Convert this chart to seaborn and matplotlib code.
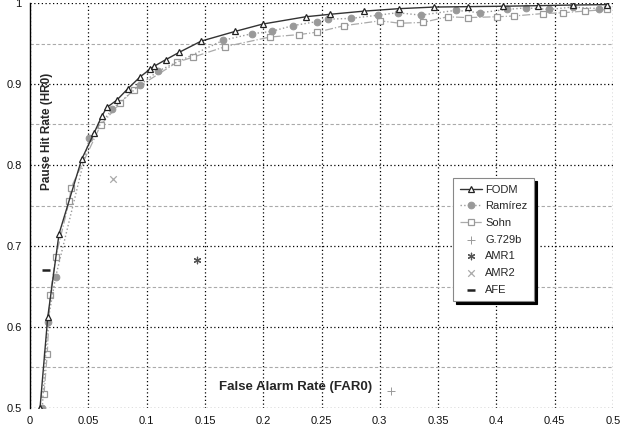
import matplotlib
matplotlib.use('Agg')
import matplotlib.pyplot as plt
import pandas as pd
import seaborn as sns
from matplotlib.ticker import MultipleLocator

# ROC-style curves: false alarm rate vs pause hit rate
fodm_far = [0.0086, 0.0152, 0.0249, 0.0443, 0.0551, 0.0615, 0.0658, 0.0744, 0.0838, 0.0946,
            0.1027, 0.1066, 0.1164, 0.1278, 0.1469, 0.1761, 0.1996, 0.2364, 0.2570, 0.2867,
            0.3164, 0.3467, 0.3754, 0.4054, 0.4354, 0.4654, 0.4951]
fodm_hr = [0.500, 0.612, 0.715, 0.807, 0.840, 0.860, 0.871, 0.880, 0.894, 0.909,
           0.918, 0.922, 0.930, 0.939, 0.953, 0.965, 0.974, 0.983, 0.986, 0.990,
           0.993, 0.995, 0.9955, 0.996, 0.9967, 0.9975, 0.998]

ram_far = [0.0105, 0.0152, 0.0220, 0.0509, 0.0706, 0.0943, 0.1100, 0.1658, 0.1900, 0.2073,
           0.2253, 0.2459, 0.2558, 0.2753, 0.2987, 0.3153, 0.3353, 0.3653, 0.3859, 0.4088,
           0.4254, 0.4454, 0.4654, 0.4883]
ram_hr = [0.500, 0.606, 0.662, 0.833, 0.869, 0.899, 0.916, 0.954, 0.962, 0.965,
          0.972, 0.977, 0.980, 0.981, 0.985, 0.988, 0.985, 0.991, 0.988, 0.992,
          0.994, 0.992, 0.995, 0.993]

sohn_far = [0.0120, 0.0148, 0.0172, 0.0220, 0.0337, 0.0352, 0.0609, 0.0772, 0.0890, 0.1263,
            0.1395, 0.1672, 0.2058, 0.2307, 0.2464, 0.2693, 0.3002, 0.3173, 0.3368, 0.3582,
            0.3754, 0.4002, 0.4154, 0.4402, 0.4574, 0.4757, 0.4946]
sohn_hr = [0.517, 0.567, 0.639, 0.686, 0.756, 0.772, 0.850, 0.876, 0.893, 0.927,
           0.933, 0.946, 0.958, 0.961, 0.964, 0.972, 0.978, 0.975, 0.976, 0.983,
           0.982, 0.983, 0.984, 0.987, 0.988, 0.990, 0.992]

# single operating points of the standard detectors
single_names = ['G.729b', 'AMR1', 'AMR2', 'AFE']
single_far = [0.3093, 0.1435, 0.0709, 0.0140]
single_hr = [0.521, 0.683, 0.783, 0.670]

x_ticks = [0, 0.05, 0.1, 0.15, 0.2, 0.25, 0.3, 0.35, 0.4, 0.45, 0.5]
x_tick_labels = ['0', '0.05', '0.1', '0.15', '0.2', '0.25', '0.3', '0.35', '0.4', '0.45', '0.5']
y_ticks = [0.5, 0.6, 0.7, 0.8, 0.9, 1.0]
y_tick_labels = ['0.5', '0.6', '0.7', '0.8', '0.9', '1']


def main():
    sns.set_style('white')
    plt.rcParams['font.family'] = ['Liberation Sans', 'DejaVu Sans']

    fig = plt.figure(figsize=(6.34, 4.30), dpi=100)
    ax = fig.add_axes([30 / 634, 22 / 430, 583 / 634, 405 / 430])

    fodm = pd.DataFrame({'far': fodm_far, 'hr': fodm_hr})
    ram = pd.DataFrame({'far': ram_far, 'hr': ram_hr})
    sohn = pd.DataFrame({'far': sohn_far, 'hr': sohn_hr})

    sns.lineplot(data=fodm, x='far', y='hr', ax=ax, sort=False, estimator=None,
                 color='#333333', lw=1.0, marker='^', markersize=4.5,
                 markerfacecolor='white', markeredgecolor='#222222', markeredgewidth=0.9,
                 label='FODM', zorder=5)
    sns.lineplot(data=ram, x='far', y='hr', ax=ax, sort=False, estimator=None,
                 color='#999999', lw=1.0, linestyle=':', marker='o', markersize=4.8,
                 markerfacecolor='#999999', markeredgecolor='#999999',
                 label='Ramírez', zorder=4)
    sns.lineplot(data=sohn, x='far', y='hr', ax=ax, sort=False, estimator=None,
                 color='#aaaaaa', lw=0.9, linestyle='-.', marker='s', markersize=4.5,
                 markerfacecolor='white', markeredgecolor='#999999', markeredgewidth=0.9,
                 label='Sohn', zorder=3)

    # single points
    styles = {
        'G.729b': dict(marker='+', color='#999999', s=28, linewidth=0.7),
        'AMR1': dict(marker=(6, 2, 0), color='#555555', s=22, linewidth=0.9),
        'AMR2': dict(marker='x', color='#aaaaaa', s=22, linewidth=0.9),
        'AFE': dict(marker='_', color='#222222', s=30, linewidth=1.8),
    }
    for name, fx, hy in zip(single_names, single_far, single_hr):
        sns.scatterplot(x=[fx], y=[hy], ax=ax, label=name, zorder=6, **styles[name])

    ax.set_xlim(0, 0.5)
    ax.set_ylim(0.5, 1.0)
    ax.set_xticks(x_ticks)
    ax.set_xticklabels(x_tick_labels)
    ax.set_yticks(y_ticks)
    ax.set_yticklabels(y_tick_labels)
    ax.yaxis.set_minor_locator(MultipleLocator(0.05))
    ax.tick_params(axis='both', labelsize=8, length=0, pad=6, colors='#111111')

    ax.grid(which='major', axis='both', color='black', linestyle=(0, (1, 2)), lw=0.9)
    ax.grid(which='minor', axis='y', color='#aaaaaa', linestyle=(0, (3, 2)), lw=0.8)
    ax.set_axisbelow(True)

    for side in ['top', 'right', 'bottom']:
        ax.spines[side].set_visible(False)
    ax.spines['left'].set_color('black')
    ax.spines['left'].set_linewidth(1.0)

    ax.set_xlabel('')
    ax.set_ylabel('')
    ax.text(0.0146, 0.842, 'Pause Hit Rate (HR0)', rotation=90, fontsize=8.5,
            fontweight='bold', ha='center', va='center')
    ax.text(0.228, 0.526, 'False Alarm Rate (FAR0)', fontsize=9.5,
            fontweight='bold', ha='center', va='center')

    leg = ax.legend(loc='upper left', bbox_to_anchor=(0.7256, 0.568), fontsize=8,
                    frameon=True, fancybox=False, shadow={'color': 'black', 'alpha': 1.0},
                    edgecolor='#888888', borderpad=0.6, labelspacing=0.6,
                    handlelength=2.0, handletextpad=0.3, borderaxespad=0)
    leg.get_frame().set_linewidth(0.8)

    plt.savefig('out.png', dpi=100)


if __name__ == '__main__':
    main()
